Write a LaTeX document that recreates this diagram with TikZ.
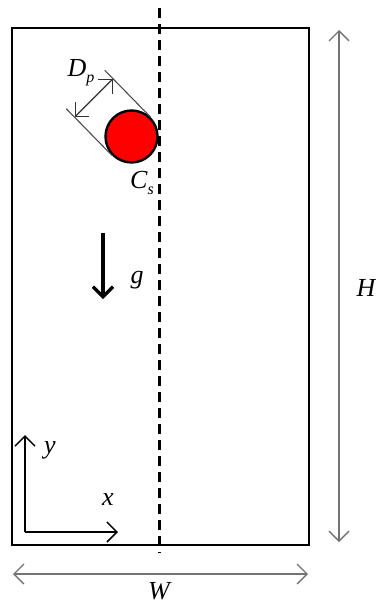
\documentclass[tikz,border=0pt]{standalone}
\usepackage{fontspec}
\setmainfont{Liberation Serif}
\usetikzlibrary{arrows.meta, calc}

\begin{document}
\begin{tikzpicture}[x=1pt, y=-1pt,
    lbl/.style={font=\fontsize{26}{28}\selectfont\itshape, inner sep=0pt},
    dimarrow/.style={black!55, line width=1.3pt, {Straight Barb[length=10pt,width=20pt]}-{Straight Barb[length=10pt,width=20pt]}},
    axisarrow/.style={line width=1.5pt, -{Straight Barb[length=10pt,width=20pt]}}]
    \useasboundingbox (0,0) rectangle (375,605);
    % Channel walls and symmetry line
    \draw[line width=2.8pt] (12,28) rectangle (309,545);
    \draw[line width=3pt, dash pattern=on 10pt off 6pt] (159,8) -- (159,553);

    % Particle with its diameter
    \node[circle, draw, line width=2.4pt, fill=red, minimum size=52pt, inner sep=0pt] (part) at (131.5,136.5) {};
    \draw[black!70, line width=1.1pt] (part.45) -- ++(-46,-47) coordinate (t2);
    \draw[black!70, line width=1.1pt] (part.225) -- ++(-46,-47) coordinate (t1);
    \coordinate (d1) at ($(part.225)!0.82!(t1)$);
    \coordinate (d2) at ($(part.45)!0.82!(t2)$);
    \draw[dimarrow, black!80] (d1) -- (d2);
    \node[lbl] (dp) at (81,73) {D\raisebox{-6pt}{\fontsize{16}{16}\selectfont p}};
    \node[lbl] (cs) at (142,183) {C\raisebox{-6pt}{\fontsize{16}{16}\selectfont s}};

    % Gravity
    \coordinate (gtop) at (103,233);
    \coordinate (gtip) at (103,299);
    \draw[line width=3.2pt, -{Straight Barb[length=10pt,width=20pt]}] (gtop) -- (gtip);
    \node[lbl] (g) at (137,280) {g};

    % Axes
    \coordinate (o) at (25,532);
    \coordinate (ytip) at (25,435);
    \coordinate (xtip) at (118,532);
    \draw[axisarrow] (o) -- (ytip);
    \draw[axisarrow] (o) -- (xtip);
    \node[lbl] (ylab) at (50,450) {y};
    \node[lbl] (xlab) at (108,500) {x};

    % Dimensions
    \coordinate (hl) at (339,30);
    \coordinate (hr) at (339,542);
    \draw[dimarrow] (hl) -- (hr);
    \node[lbl] (hlab) at (366,288) {H};
    \coordinate (wl) at (13,574);
    \coordinate (wr) at (308,574);
    \draw[dimarrow] (wl) -- (wr);
    \node[lbl] (wlab) at (159,591) {W};
\end{tikzpicture}
\end{document}
